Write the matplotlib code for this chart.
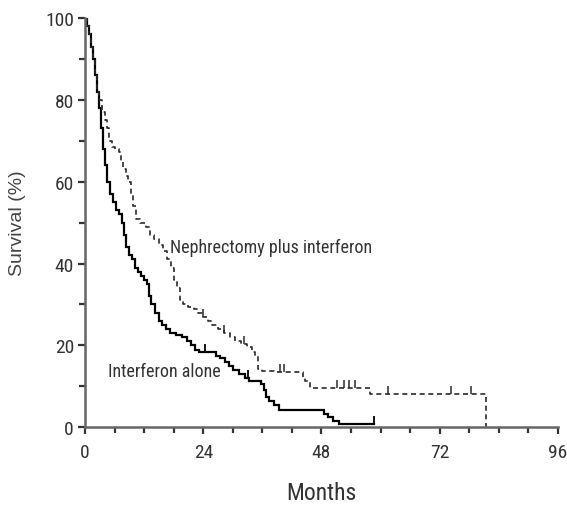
import matplotlib
matplotlib.use("Agg")
import matplotlib.pyplot as plt
from matplotlib import font_manager
from matplotlib.ticker import MultipleLocator

# narrow face for ticks and labels, plain face for the y label
names = set(f.name for f in font_manager.fontManager.ttflist)
narrow = "DejaVu Sans"
for cand in ["Liberation Sans Narrow", "Roboto Condensed", "DejaVu Sans Condensed"]:
    if cand in names:
        narrow = cand
        break
plain = "Liberation Sans" if "Liberation Sans" in names else "DejaVu Sans"

# Interferon alone (months, survival %)
alone_t = [0, 0.4, 0.8, 1.2, 1.6, 2.0, 2.4, 2.8, 3.2, 3.6, 4.0, 4.5, 5.0, 5.6, 6.2,
           6.8, 7.4, 7.9, 8.4, 8.9, 9.5, 10.2, 10.8, 11.4, 12.0, 12.6, 13.0, 13.4,
           14.2, 15.0, 15.6, 16.4, 17.2, 18.4, 19.6, 20.6, 21.6, 22.4, 23.2, 26.6,
           27.4, 28.4, 29.2, 30.0, 31.2, 32.4, 33.2, 35.8, 36.4, 36.8, 37.4, 38.4,
           39.4, 48.6, 49.4, 50.4, 51.6, 58.6]
alone_s = [100, 98, 96, 93, 90, 86, 82, 78, 73, 68, 64, 60, 57, 55, 53,
           52, 50, 47, 44, 42, 41, 39, 38, 37, 36, 35, 32, 30,
           28, 26, 25, 24, 23, 22.5, 22, 21, 20, 19, 18.3, 17.5,
           17, 16, 15, 14, 13, 12, 11.4, 10.5, 9, 7.5, 6.5, 5.5,
           4.2, 3.2, 2.4, 1.6, 0.8, 0.8]
alone_cens = [24.4, 33.0, 58.6]

# Nephrectomy plus interferon
neph_t = [0, 0.4, 0.8, 1.2, 1.6, 2.0, 2.4, 2.8, 3.4, 4.0, 4.4, 4.9, 5.4, 6.1, 6.8,
          7.3, 7.8, 8.3, 8.8, 9.3, 9.8, 10.4, 11.2, 12.4, 13.2, 14.0, 15.0, 15.8, 16.6,
          17.4, 18.0, 18.6, 19.2, 19.8, 21.0, 22.2, 23.0, 24.0, 25.0, 25.8, 27.0,
          28.2, 29.4, 30.4, 31.6, 32.8, 33.8, 34.6, 35.2, 36.0, 38.3, 44.2, 44.6,
          45.6, 57.8, 81.3]
neph_s = [100, 98, 96, 93, 90, 86, 82, 80, 77, 75, 73, 70, 68.5, 68, 67.3,
          65, 63.2, 61.5, 59.9, 57, 54, 51, 50, 49, 47, 46, 44.5, 43, 41,
          39, 36, 34, 31, 30, 29.5, 29, 28, 27, 26, 25, 24,
          23, 22, 21, 20.4, 19.5, 18.5, 17.5, 14.3, 13.8, 13.4, 12.0, 11.4,
          9.6, 8.1, 0]
neph_cens = [24.0, 28.2, 32.2, 39.6, 40.3, 51.2, 52.5, 53.5, 54.9, 61.6, 74.2, 78.3]

x_ticks = [0, 24, 48, 72, 96]
y_ticks = [0, 20, 40, 60, 80, 100]


def surv_at(ts, ss, t):
    val = ss[0]
    for ti, si in zip(ts, ss):
        if ti <= t:
            val = si
    return val


fig = plt.figure(figsize=(5.67, 5.06), dpi=100)
ax = fig.add_axes([0.150, 0.1536, 0.834, 0.809])

ax.step(alone_t, alone_s, where="post", color="black", lw=1.6, solid_joinstyle="miter")
ax.step(neph_t, neph_s, where="post", color="#2a2a2a", lw=1.2, linestyle=(0, (3, 2.2)))

ax.plot(alone_cens, [surv_at(alone_t, alone_s, t) for t in alone_cens],
        linestyle="none", marker=2, ms=6, mew=1.3, color="black")
ax.plot(neph_cens, [surv_at(neph_t, neph_s, t) for t in neph_cens],
        linestyle="none", marker=2, ms=6, mew=1.1, color="#2a2a2a")

ax.text(17.3, 44, "Nephrectomy plus interferon", fontsize=13, family=narrow,
        color="#333333", va="center", ha="left")
ax.text(4.7, 13.8, "Interferon alone", fontsize=13, family=narrow,
        color="#333333", va="center", ha="left")

ax.set_xlim(0, 96)
ax.set_ylim(0, 100)
ax.set_xticks(x_ticks)
ax.set_yticks(y_ticks)
ax.xaxis.set_minor_locator(MultipleLocator(6))
ax.yaxis.set_minor_locator(MultipleLocator(10))
for s in ["top", "right"]:
    ax.spines[s].set_visible(False)
for s in ["left", "bottom"]:
    ax.spines[s].set_color("#666666")
    ax.spines[s].set_linewidth(1.8)
ax.tick_params(which="both", direction="out", color="#333333", width=1.6)
ax.tick_params(which="major", length=5, labelsize=14, labelcolor="#333333")
ax.tick_params(axis="x", which="major", pad=6)
ax.tick_params(axis="y", which="major", pad=3)
ax.tick_params(which="minor", length=4)
for lab in ax.get_xticklabels() + ax.get_yticklabels():
    lab.set_family(narrow)

ax.set_xlabel("Months", fontsize=17, family=narrow, color="#333333", labelpad=15)
ax.set_ylabel("Survival (%)", fontsize=14, family=plain, color="#444444", labelpad=14)

fig.savefig("out.png", dpi=100)
